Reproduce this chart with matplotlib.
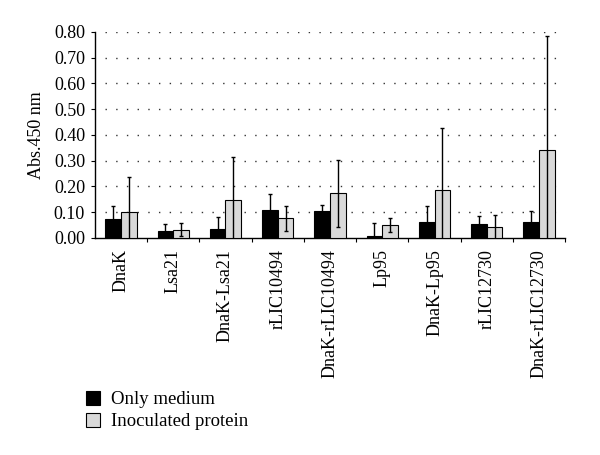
import matplotlib.pyplot as plt
import numpy as np
from matplotlib.patches import Patch

plt.rcParams['font.family'] = ['Liberation Serif', 'DejaVu Serif']

# Data
proteins = ["DnaK", "Lsa21", "DnaK-Lsa21", "rLIC10494", "DnaK-rLIC10494",
            "Lp95", "DnaK-Lp95", "rLIC12730", "DnaK-rLIC12730"]
only_medium = [0.075, 0.026, 0.035, 0.107, 0.105, 0.009, 0.061, 0.055, 0.062]
only_medium_err = [0.050, 0.028, 0.045, 0.063, 0.024, 0.048, 0.062, 0.029, 0.041]
inoculated = [0.100, 0.032, 0.147, 0.077, 0.173, 0.049, 0.187, 0.041, 0.342]
inoculated_err = [0.135, 0.026, 0.166, 0.049, 0.130, 0.027, 0.241, 0.047, 0.441]

fig = plt.figure(figsize=(6, 4.55), dpi=100)
ax = fig.add_axes([0.158, 0.477, 0.784, 0.453])

x = np.arange(len(proteins)) + 0.5
w = 0.3
err_kw = dict(elinewidth=1, capsize=1.6, capthick=1, ecolor='black')
ax.bar(x - w / 2, only_medium, w, yerr=only_medium_err, color='black',
       edgecolor='black', linewidth=0.8, error_kw=err_kw, zorder=3)
ax.bar(x + w / 2, inoculated, w, yerr=inoculated_err, color='#d9d9d9',
       edgecolor='black', linewidth=0.8, error_kw=err_kw, zorder=3)

ax.set_xlim(0, len(proteins))
ax.set_ylim(0, 0.8)
ax.set_yticks(np.arange(0, 0.81, 0.1))
ax.set_yticklabels([f"{v:.2f}" for v in np.arange(0, 0.81, 0.1)], fontsize=13)
ax.set_ylabel("Abs.450 nm", fontsize=13, labelpad=6)

ax.set_xticks(x)
ax.set_xticklabels(proteins, rotation=90, fontsize=13)
ax.set_xticks(np.arange(1, len(proteins) + 1), minor=True)
ax.tick_params(axis='x', which='major', length=0, pad=8)
ax.tick_params(axis='x', which='minor', length=3, width=0.8, direction='out')
ax.tick_params(axis='y', length=3, width=0.8, pad=4)

for s in ['top', 'right']:
    ax.spines[s].set_visible(False)
for s in ['left', 'bottom']:
    ax.spines[s].set_linewidth(1)

for v in np.arange(0.1, 0.81, 0.1):
    ax.plot([0.2, 8.85], [v, v], color='#333333', linewidth=1,
            linestyle=(0, (1, 6.7)), zorder=1)

handles = [Patch(facecolor='black', edgecolor='black', linewidth=0.8),
           Patch(facecolor='#d9d9d9', edgecolor='black', linewidth=0.8)]
fig.legend(handles, ["Only medium", "Inoculated protein"], loc='upper left',
           bbox_to_anchor=(0.115, 0.178), frameon=False, fontsize=13.5,
           handlelength=0.75, handleheight=0.75, handletextpad=0.6,
           labelspacing=0.25)

fig.savefig("out.png", dpi=100)
